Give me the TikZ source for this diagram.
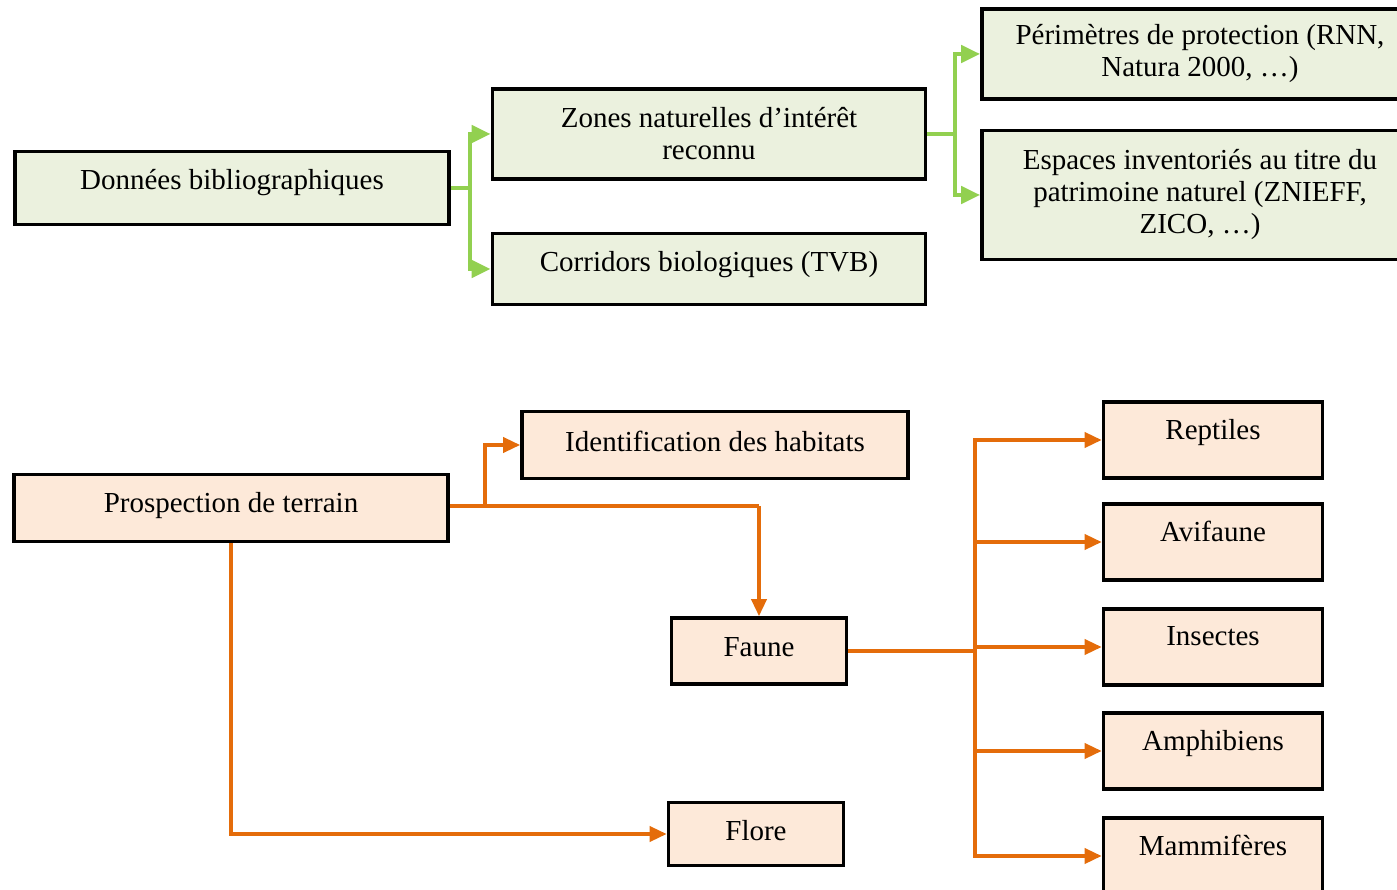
\documentclass[tikz,border=0pt]{standalone}
\usepackage{fontspec}
\setmainfont{Liberation Serif}
\usetikzlibrary{arrows.meta}

\definecolor{leaf}{HTML}{92D050}
\definecolor{leaffill}{HTML}{EBF1DE}
\definecolor{rust}{HTML}{E46C0A}
\definecolor{rustfill}{HTML}{FDE9D9}

\begin{document}
\begin{tikzpicture}[x=1pt,y=-1pt,
    box/.style={draw=black, line width=3.6pt, inner sep=0pt, align=center,
                font=\fontsize{29}{32}\selectfont},
    biblio/.style={box, fill=leaffill},
    terrain/.style={box, fill=rustfill},
    greenarrow/.style={draw=leaf, line width=4.5pt, -{Triangle[length=19pt,width=17pt]}},
    greenline/.style={draw=leaf, line width=4.5pt},
    orangearrow/.style={draw=rust, line width=3.6pt, -{Triangle[length=17pt,width=15pt]}},
    orangeline/.style={draw=rust, line width=3.6pt}]

    \useasboundingbox (0,0) rectangle (1397,890);
    \clip (0,0) rectangle (1397,890);

    % Donnees bibliographiques
    \node[biblio, minimum width=434, minimum height=73, text depth=17pt] (donnees) at (232,188) {Données bibliographiques};
    \node[biblio, minimum width=433, minimum height=90] (zones) at (709,134) {Zones naturelles d’intérêt\\reconnu};
    \node[biblio, minimum width=433, minimum height=71, text depth=15pt] (corridors) at (709,269) {Corridors biologiques (TVB)};
    \node[biblio, minimum width=436, minimum height=90] (perimetres) at (1200,54) {Périmètres de protection (RNN,\\Natura 2000, …)};
    \node[biblio, minimum width=436, minimum height=129] (espaces) at (1200,195) {Espaces inventoriés au titre du\\patrimoine naturel (ZNIEFF,\\ZICO, …)};

    % Prospection de terrain
    \node[terrain, minimum width=434, minimum height=67, text depth=12pt] (prospection) at (231,508) {Prospection de terrain};
    \node[terrain, minimum width=386, minimum height=67, text depth=8pt] (habitats) at (715,445) {Identification des habitats};
    \node[terrain, minimum width=175, minimum height=66, text depth=8pt] (faune) at (759,651) {Faune};
    \node[terrain, minimum width=175, minimum height=63, text depth=8pt] (flore) at (756,834) {Flore};
    \foreach \name/\txt/\y in {reptiles/Reptiles/440, avifaune/Avifaune/542,
                               insectes/Insectes/647, amphibiens/Amphibiens/751,
                               mammiferes/Mammifères/856}
        \node[terrain, minimum width=219, minimum height=76, text depth=21pt] (\name) at (1213,\y) {\txt};

    % Branches vertes
    \coordinate (j1) at (470,188);
    \coordinate (j2) at (955,134);
    \draw[greenline] (donnees.east) -- (j1);
    \draw[greenarrow] (j1) |- (zones.west);
    \draw[greenarrow] (j1) |- (corridors.west);
    \draw[greenline] (zones.east) -- (j2);
    \draw[greenarrow] (j2) |- (perimetres.west);
    \draw[greenarrow] (j2) |- (espaces.west);

    % Branches orange
    \coordinate (p1) at (485,506);
    \coordinate (p2) at (759,506);
    \coordinate (f1) at (975,651);
    \draw[orangeline] (prospection.east |- p1) -- (p2);
    \draw[orangearrow] (p2) -- (faune.north);
    \draw[orangearrow] (p1) |- (habitats.west);
    \draw[orangearrow] (prospection.south) |- (flore.west);
    \draw[orangeline] (faune.east) -- (f1);
    \foreach \name in {reptiles, avifaune, insectes, amphibiens, mammiferes}
        \draw[orangearrow] (f1) |- (\name.west);

\end{tikzpicture}
\end{document}
